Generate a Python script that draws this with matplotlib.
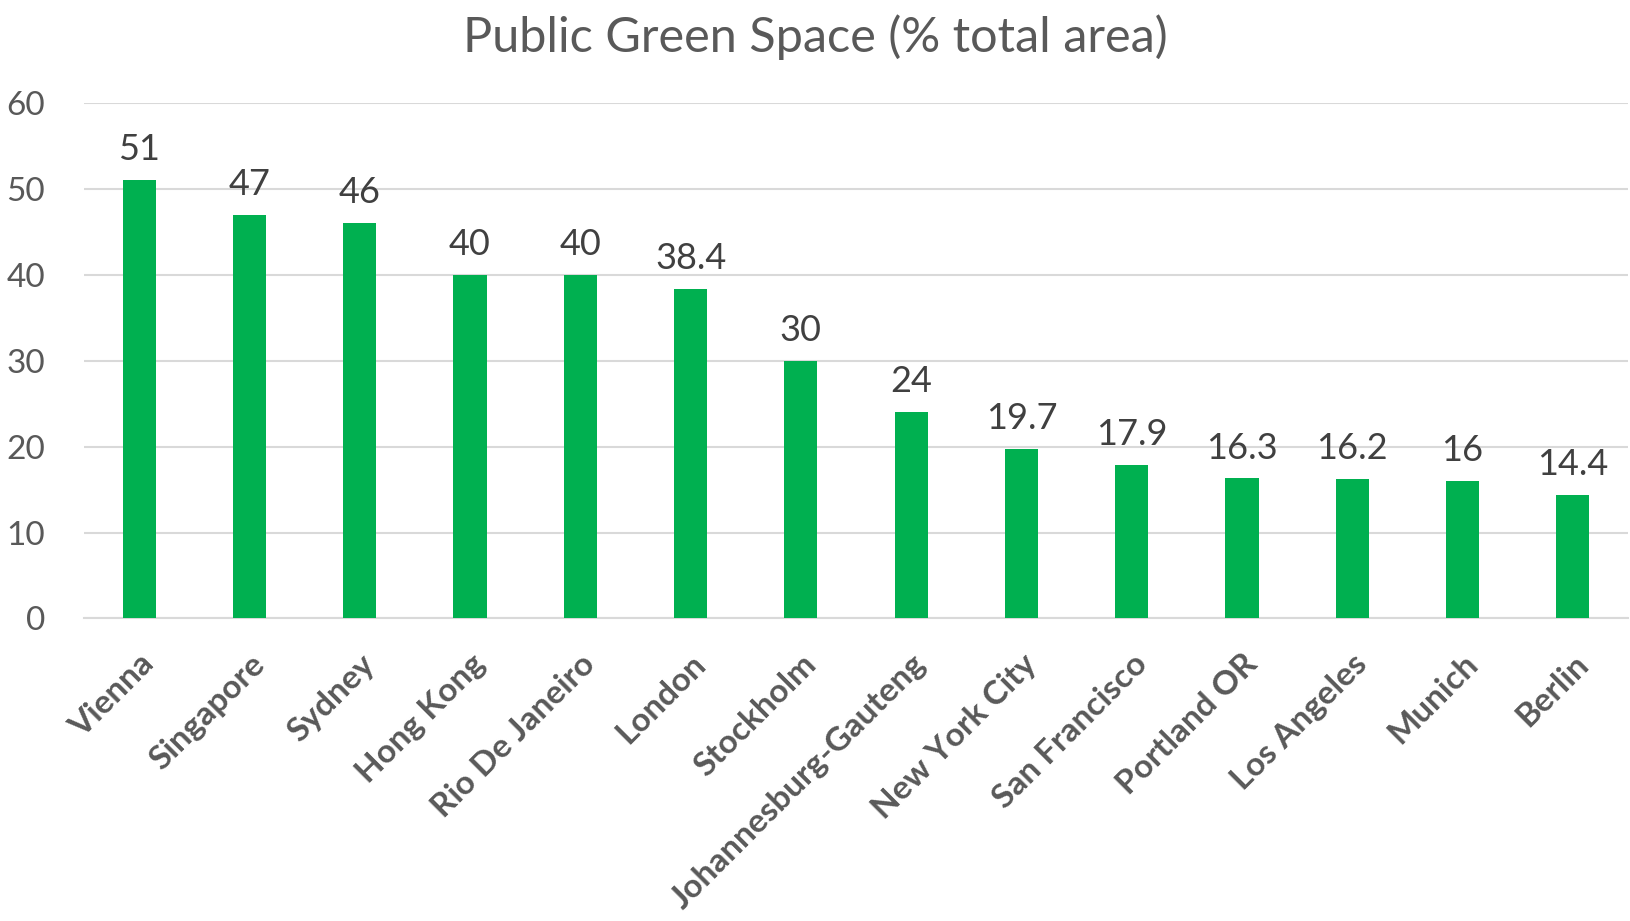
import matplotlib
matplotlib.use("Agg")
import matplotlib.pyplot as plt

cities = ["Vienna", "Singapore", "Sydney", "Hong Kong", "Rio De Janeiro", "London",
          "Stockholm", "Johannesburg-Gauteng", "New York City", "San Francisco",
          "Portland OR", "Los Angeles", "Munich", "Berlin"]
green_pct = [51, 47, 46, 40, 40, 38.4, 30, 24, 19.7, 17.9, 16.3, 16.2, 16, 14.4]
yticks = [0, 10, 20, 30, 40, 50, 60]

plt.rcParams['font.family'] = ['Lato', 'DejaVu Sans']

fig = plt.figure(figsize=(16.3, 9.21), dpi=100)
ax = fig.add_axes([0.0515, 0.3285, 0.9473, 0.5597])

x = range(len(cities))
bars = ax.bar(x, green_pct, width=0.3, color="#00B050", zorder=3)

# data labels above bars
for xi, v in zip(x, green_pct):
    ax.annotate(f"{v:g}", (xi, v), xytext=(0, 10), textcoords="offset points",
                ha="center", va="bottom", fontsize=26, color="#404040")

ax.set_xlim(-0.5, len(cities) - 0.5)
ax.set_ylim(0, 60)
ax.set_yticks(yticks)
ax.yaxis.grid(True, color="#D9D9D9", linewidth=1.5, zorder=0)
ax.tick_params(axis="y", length=0, pad=28, labelsize=24, labelcolor="#595959")
ax.tick_params(axis="x", length=0, pad=22)
ax.set_xticks(list(x))
ax.set_xticklabels(cities, rotation=45, ha="right", rotation_mode="anchor",
                   fontsize=24, fontweight="bold", color="#595959")
for s in ["top", "right", "left"]:
    ax.spines[s].set_visible(False)
ax.spines["bottom"].set_color("#D9D9D9")
ax.spines["bottom"].set_linewidth(1.5)

fig.suptitle("Public Green Space (% total area)", y=0.985, fontsize=35, color="#595959")

fig.savefig("out.png", dpi=100)
